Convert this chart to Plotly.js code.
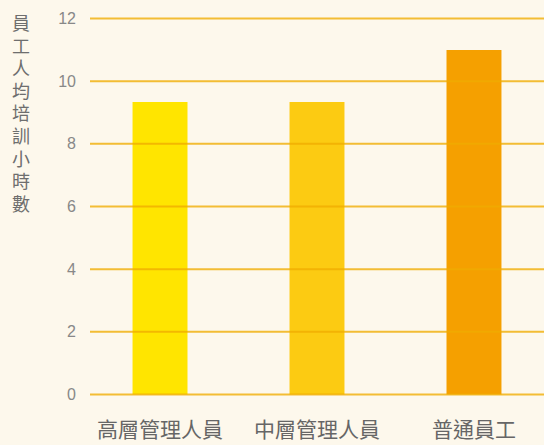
<!DOCTYPE html>
<html>
<head>
<meta charset="utf-8">
<script src="https://cdn.plot.ly/plotly-3.0.1.min.js"></script>
<style>
html,body{margin:0;padding:0;background:#FDF8EC;}
#chart{width:544px;height:445px;}
</style>
</head>
<body>
<div id="chart"></div>
<script>
const categories = ["高層管理人員", "中層管理人員", "普通員工"];
const hours = [9.34, 9.34, 11.0];
const barColors = ["#FFE500", "#FCCB12", "#F5A000"];
const yTicks = [0, 2, 4, 6, 8, 10, 12];
const yTitleChars = ["員","工","人","均","培","訓","小","時","數"];

const font = "'Noto Sans CJK TC', 'Noto Sans', sans-serif";
const W = 544, H = 445, M = {l: 90, r: 0, t: 17, b: 49};
const plotH = H - M.t - M.b;

const trace = {
  type: "bar",
  x: categories,
  y: hours,
  marker: {color: barColors, line: {width: 0}},
  width: 0.35,
  hoverinfo: "none"
};

const gridShapes = yTicks.map(v => ({
  type: "line", xref: "paper", yref: "y",
  x0: 0, x1: 1, y0: v, y1: v,
  layer: "above",
  line: {color: "rgba(240,172,0,0.78)", width: 2}
}));

// vertical stacked y-axis title, one character per annotation
const titleTop = 22, titleStep = 22.6;
const titleAnnotations = yTitleChars.map((ch, i) => ({
  xref: "paper", yref: "paper",
  x: (21 - M.l) / (W - M.l - M.r),
  y: (H - M.b - (titleTop + i * titleStep)) / plotH,
  xanchor: "center", yanchor: "middle",
  text: ch, showarrow: false,
  font: {size: 18, color: "#6e6e6e", family: font}
}));

const layout = {
  width: W, height: H,
  paper_bgcolor: "#FDF8EC",
  plot_bgcolor: "#FDF8EC",
  margin: M,
  showlegend: false,
  font: {family: font, color: "#777"},
  xaxis: {
    range: [-0.446, 2.446],
    showgrid: false, zeroline: false, showline: false,
    ticks: "",
    tickfont: {size: 21, color: "#666", family: font},
    ticklabelstandoff: 19
  },
  yaxis: {
    range: [-0.05, 12.05],
    tickvals: yTicks,
    ticktext: yTicks.map(String),
    showgrid: false, zeroline: false, showline: false,
    ticks: "",
    tickfont: {size: 16, color: "#888", family: "'Liberation Sans', 'DejaVu Sans', sans-serif"},
    ticklabelstandoff: 13
  },
  shapes: gridShapes,
  annotations: titleAnnotations
};

Plotly.newPlot("chart", [trace], layout, {displayModeBar: false, staticPlot: true});
</script>
</body>
</html>
